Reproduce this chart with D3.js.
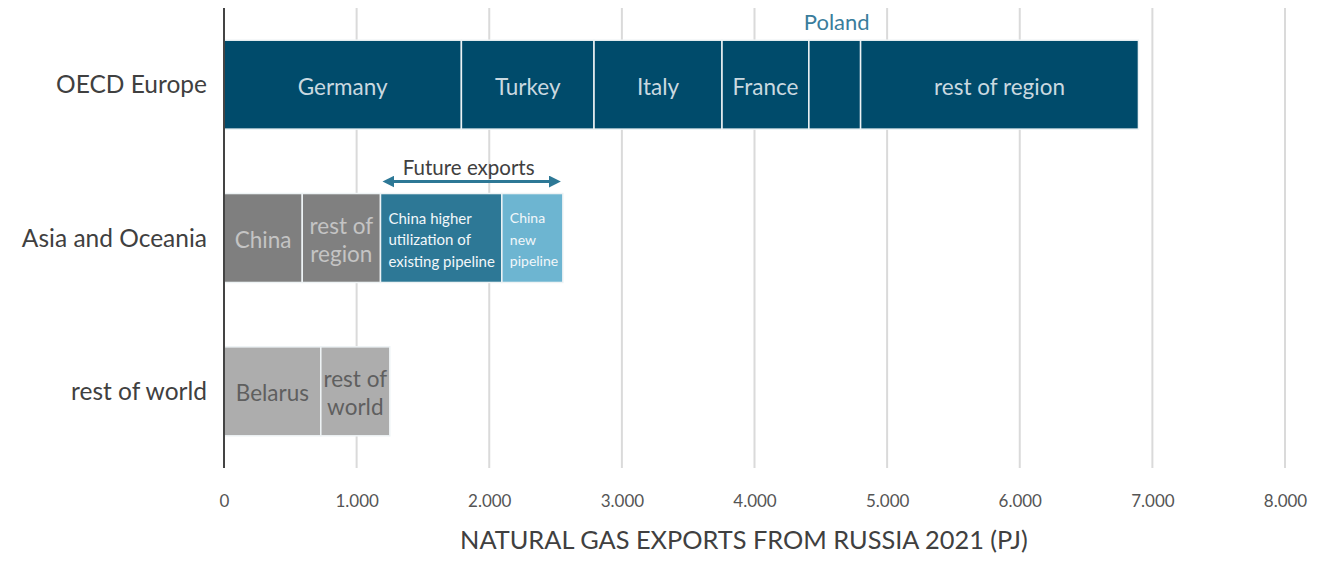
<!DOCTYPE html>
<html>
<head>
<meta charset="utf-8">
<script src="https://cdn.jsdelivr.net/npm/d3@7"></script>
<style>
  body { margin: 0; background: #fff; }
  text { font-family: Lato, "Open Sans", sans-serif; }
</style>
</head>
<body>
<div id="barChart"></div>
<script>
// regions on the y axis
var regions = ["OECD Europe", "Asia and Oceania", "rest of world"];

// OECD Europe split by country (PJ)
var oecdNames = ["Germany", "Turkey", "Italy", "France", "Poland", "rest of region"];
var oecdValues = [1790, 1000, 965, 655, 390, 2095];

// Asia and Oceania, incl. the two future export blocks
var asiaNames = ["China", "rest of\nregion", "China higher\nutilization of\nexisting pipeline", "China\nnew\npipeline"];
var asiaValues = [590, 590, 915, 460];

// rest of world
var worldNames = ["Belarus", "rest of\nworld"];
var worldValues = [730, 520];

var xTicks = [0, 1000, 2000, 3000, 4000, 5000, 6000, 7000, 8000];
var axisTitle = "NATURAL GAS EXPORTS FROM RUSSIA 2021 (PJ)";
var futureLabel = "Future exports";

function displayExports() {

  var margin = {top: 8, right: 37, bottom: 97, left: 224},
  width = 1322 - margin.left - margin.right,
  height = 565 - margin.top - margin.bottom;

  var x = d3.scaleLinear().domain([0, 8000]).range([0, width]);
  var y = d3.scaleBand().domain(regions).range([0, height])
    .paddingInner(0.42).paddingOuter(0.21);

  var locale = d3.formatLocale({decimal: ",", thousands: ".", grouping: [3], currency: ["", ""]});
  var fmt = locale.format(",");

  var svg = d3.select("#barChart").append("svg")
  .attr("width", width + margin.left + margin.right)
  .attr("height", height + margin.top + margin.bottom)
  .append("g")
  .attr("transform", "translate(" + margin.left + "," + margin.top + ")");

  // grid lines
  svg.selectAll(".grid")
  .data(xTicks.slice(1))
  .enter().append("line")
  .attr("x1", function(d) { return x(d); })
  .attr("x2", function(d) { return x(d); })
  .attr("y1", 0)
  .attr("y2", height)
  .style("stroke", "#dadada")
  .style("stroke-width", 2);

  // x axis (labels only)
  var xAxis = d3.axisBottom(x)
  .tickValues(xTicks)
  .tickSize(0)
  .tickPadding(27)
  .tickFormat(fmt);

  var gx = svg.append("g")
  .attr("transform", "translate(0," + height + ")")
  .call(xAxis);
  gx.select(".domain").remove();
  gx.selectAll("text")
  .style("font-family", "Lato, sans-serif")
  .style("font-size", "17px")
  .style("fill", "#555");

  // axis title, sized to its span in the original
  var title = svg.append("text")
  .attr("x", x(3920))
  .attr("y", height + 81)
  .style("text-anchor", "middle")
  .style("font-size", "20px")
  .style("fill", "#404040")
  .text(axisTitle);
  var tw = title.node().getComputedTextLength();
  title.style("font-size", (20 * 568 / tw) + "px");

  // stacked segments
  var groups = [
    {region: regions[0], names: oecdNames, values: oecdValues},
    {region: regions[1], names: asiaNames, values: asiaValues},
    {region: regions[2], names: worldNames, values: worldValues}
  ];

  var fills = {
    "OECD Europe": ["#004b6b", "#004b6b", "#004b6b", "#004b6b", "#004b6b", "#004b6b"],
    "Asia and Oceania": ["#7f7f7f", "#808080", "#2d7896", "#6db5d1"],
    "rest of world": ["#adadad", "#adadad"]
  };
  var textFills = {
    "OECD Europe": "#cad9e0",
    "Asia and Oceania": "#c4c4c4",
    "rest of world": "#5f5f5f"
  };

  var segs = [];
  groups.forEach(function(g) {
    var acc = 0;
    g.values.forEach(function(v, i) {
      segs.push({region: g.region, name: g.names[i], x0: acc, x1: acc + v, i: i});
      acc += v;
    });
  });

  svg.selectAll("bar")
  .data(segs)
  .enter().append("rect")
  .attr("x", function(d) { return x(d.x0); })
  .attr("width", function(d) { return x(d.x1) - x(d.x0); })
  .attr("y", function(d) { return y(d.region); })
  .attr("height", y.bandwidth())
  .style("fill", function(d) { return fills[d.region][d.i]; })
  .style("stroke", "#eef3f5")
  .style("stroke-width", 1.5);

  // segment labels
  segs.forEach(function(d) {
    var lines = d.name.split("\n");
    var cy = y(d.region) + y.bandwidth() / 2 + 2;
    var future = d.region == regions[1] && d.i >= 2;

    if (d.name == "Poland") {
      svg.append("text")
      .attr("x", x((d.x0 + d.x1) / 2) + 2)
      .attr("y", y(d.region) - 10)
      .style("text-anchor", "middle")
      .style("font-size", "22px")
      .style("fill", "#3a7d9c")
      .text(d.name);
      return;
    }

    var size = future ? (d.i == 2 ? 15 : 14) : 22.5;
    var lh = future ? 21.5 : 28.5;
    var t = svg.append("text")
    .attr("x", future ? x(d.x0) + 8 : x((d.x0 + d.x1) / 2))
    .attr("y", cy - (lines.length - 1) * lh / 2)
    .style("text-anchor", future ? "start" : "middle")
    .style("font-size", size + "px")
    .style("fill", future ? "#f2f7fa" : textFills[d.region]);

    lines.forEach(function(l, k) {
      t.append("tspan")
      .attr("x", t.attr("x"))
      .attr("dy", k == 0 ? "0.35em" : lh)
      .text(l);
    });
  });

  // future exports arrow
  var f0 = asiaValues[0] + asiaValues[1];
  var f1 = f0 + asiaValues[2] + asiaValues[3];
  var ay = y(regions[1]) - 12;

  var defs = svg.append("defs");
  ["start", "end"].forEach(function(k) {
    defs.append("marker")
    .attr("id", "arr-" + k)
    .attr("viewBox", "0 0 10 10")
    .attr("refX", 5).attr("refY", 5)
    .attr("markerWidth", 4).attr("markerHeight", 4)
    .attr("orient", k == "start" ? "auto-start-reverse" : "auto")
    .append("path")
    .attr("d", "M0,0 L10,5 L0,10 z")
    .style("fill", "#2d7896");
  });

  svg.append("line")
  .attr("x1", x(f0) + 8)
  .attr("x2", x(f1) - 8)
  .attr("y1", ay)
  .attr("y2", ay)
  .style("stroke", "#2d7896")
  .style("stroke-width", 3)
  .attr("marker-start", "url(#arr-start)")
  .attr("marker-end", "url(#arr-end)");

  svg.append("text")
  .attr("x", (x(f0) + x(f1)) / 2 - 3)
  .attr("y", ay - 7)
  .style("text-anchor", "middle")
  .style("font-size", "20.5px")
  .style("fill", "#404040")
  .text(futureLabel);

  // region labels
  svg.selectAll(".region")
  .data(regions)
  .enter().append("text")
  .attr("x", -17)
  .attr("y", function(d) { return y(d) + y.bandwidth() / 2; })
  .attr("dy", "0.35em")
  .style("text-anchor", "end")
  .style("font-size", "24.5px")
  .style("fill", "#404040")
  .text(function(d) { return d; });

  // y axis line
  svg.append("line")
  .attr("x1", 0).attr("x2", 0)
  .attr("y1", 0).attr("y2", height)
  .style("stroke", "#444")
  .style("stroke-width", 2);
}

displayExports();
</script>
</body>
</html>
